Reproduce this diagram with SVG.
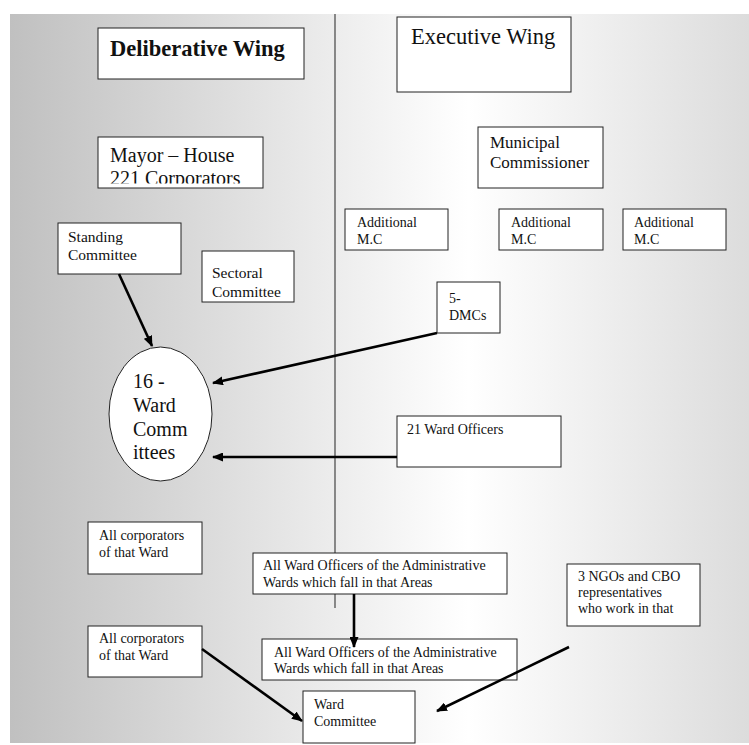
<svg xmlns="http://www.w3.org/2000/svg" width="749" height="745" viewBox="0 0 749 745">
<style>
  .box { fill: #ffffff; stroke: #222222; stroke-width: 1; }
  .t { font-family: "Liberation Serif", "Times New Roman", "DejaVu Serif", serif; fill: #111111; }
  .s14 { font-size: 14px; }
  .s15 { font-size: 15.5px; }
  .s17 { font-size: 17px; }
  .s20 { font-size: 20px; }
  .s22 { font-size: 22.5px; }
  .b { font-weight: bold; }
  .arrow { stroke: #000000; stroke-width: 2.6; fill: none; marker-end: url(#ah); }
</style>
<defs>
  <linearGradient id="bg" gradientUnits="userSpaceOnUse" x1="10" y1="0" x2="749" y2="0">
    <stop offset="0" stop-color="#c0c0c0"/>
    <stop offset="0.62" stop-color="#ffffff"/>
    <stop offset="1" stop-color="#dcdcdc"/>
  </linearGradient>
  <marker id="ah" markerWidth="11" markerHeight="9" refX="10" refY="4.5" orient="auto" markerUnits="userSpaceOnUse">
    <path d="M0,0 L11,4.5 L0,9 Z" fill="#000000"/>
  </marker>
  <clipPath id="mayorClip"><rect x="98" y="137" width="165" height="46.5"/></clipPath>
</defs>

<rect x="10" y="14" width="739" height="729" fill="url(#bg)"/>
<line x1="335" y1="14" x2="335" y2="608" stroke="#444444" stroke-width="1.2"/>

<g id="deliberative-wing">
  <rect class="box" x="98" y="28" width="206" height="51"/>
  <text class="t s22 b" x="110" y="56">Deliberative Wing</text>
</g>
<g id="executive-wing">
  <rect class="box" x="397" y="17" width="174" height="75"/>
  <text class="t s22" x="411" y="44">Executive Wing</text>
</g>
<g id="mayor-house">
  <rect class="box" x="98" y="137" width="165" height="51"/>
  <g clip-path="url(#mayorClip)">
    <text class="t s20" x="110" y="162">Mayor – House</text>
    <text class="t s20" x="110" y="185">221 Corporators</text>
  </g>
</g>
<g id="municipal-commissioner">
  <rect class="box" x="478" y="127" width="125" height="61"/>
  <text class="t s17" x="490" y="148">Municipal</text>
  <text class="t s17" x="490" y="168">Commissioner</text>
</g>
<g id="standing-committee">
  <rect class="box" x="58" y="223" width="123" height="51"/>
  <text class="t s15" x="68" y="242">Standing</text>
  <text class="t s15" x="68" y="260">Committee</text>
</g>
<g id="sectoral-committee">
  <rect class="box" x="202" y="251" width="92" height="51"/>
  <text class="t s15" x="212" y="278">Sectoral</text>
  <text class="t s15" x="212" y="297">Committee</text>
</g>
<g id="additional-mc-1">
  <rect class="box" x="345" y="209" width="103" height="41"/>
  <text class="t s14" x="357" y="227">Additional</text>
  <text class="t s14" x="357" y="244">M.C</text>
</g>
<g id="additional-mc-2">
  <rect class="box" x="499" y="209" width="104" height="41"/>
  <text class="t s14" x="511" y="227">Additional</text>
  <text class="t s14" x="511" y="244">M.C</text>
</g>
<g id="additional-mc-3">
  <rect class="box" x="623" y="209" width="103" height="41"/>
  <text class="t s14" x="634" y="227">Additional</text>
  <text class="t s14" x="634" y="244">M.C</text>
</g>
<g id="dmcs">
  <rect class="box" x="437" y="282" width="63" height="51"/>
  <text class="t s14" x="449" y="303">5-</text>
  <text class="t s14" x="449" y="320">DMCs</text>
</g>
<g id="ward-committees-16">
  <ellipse cx="160.5" cy="414" rx="51.5" ry="67" fill="#ffffff" stroke="#222222" stroke-width="1"/>
  <text class="t s20" x="133" y="388">16 -</text>
  <text class="t s20" x="133" y="412">Ward</text>
  <text class="t s20" x="133" y="436">Comm</text>
  <text class="t s20" x="133" y="459">ittees</text>
</g>
<g id="ward-officers-21">
  <rect class="box" x="397" y="416" width="164" height="51"/>
  <text class="t s14" x="407" y="434">21 Ward Officers</text>
</g>
<g id="all-corporators-1">
  <rect class="box" x="88" y="522" width="114" height="52"/>
  <text class="t s14" x="99" y="540">All corporators</text>
  <text class="t s14" x="99" y="557">of that Ward</text>
</g>
<g id="all-ward-officers-1">
  <rect class="box" x="253" y="553" width="254" height="41"/>
  <text class="t s14" x="263" y="570">All Ward Officers of the Administrative</text>
  <text class="t s14" x="263" y="587">Wards which fall in that Areas</text>
</g>
<g id="ngo-cbo">
  <rect class="box" x="567" y="564" width="133" height="62"/>
  <text class="t s14" x="578" y="581">3 NGOs and CBO</text>
  <text class="t s14" x="578" y="597">representatives</text>
  <text class="t s14" x="578" y="613">who work in that</text>
</g>
<g id="all-corporators-2">
  <rect class="box" x="88" y="626" width="114" height="51"/>
  <text class="t s14" x="99" y="643">All corporators</text>
  <text class="t s14" x="99" y="660">of that Ward</text>
</g>
<g id="all-ward-officers-2">
  <rect class="box" x="262" y="639" width="255" height="41"/>
  <text class="t s14" x="274" y="657">All Ward Officers of the Administrative</text>
  <text class="t s14" x="274" y="673">Wards which fall in that Areas</text>
</g>
<g id="ward-committee">
  <rect class="box" x="303" y="691" width="112" height="52"/>
  <text class="t s14" x="314" y="709">Ward</text>
  <text class="t s14" x="314" y="726">Committee</text>
</g>

<g id="connectors">
  <line class="arrow" x1="119" y1="274" x2="152" y2="346"/>
  <line class="arrow" x1="437" y1="333" x2="213" y2="383"/>
  <line class="arrow" x1="397" y1="457" x2="213" y2="457"/>
  <line class="arrow" x1="354" y1="594" x2="354" y2="647"/>
  <line class="arrow" x1="202" y1="649" x2="302" y2="721"/>
  <line class="arrow" x1="569" y1="647" x2="437" y2="711"/>
</g>
</svg>
